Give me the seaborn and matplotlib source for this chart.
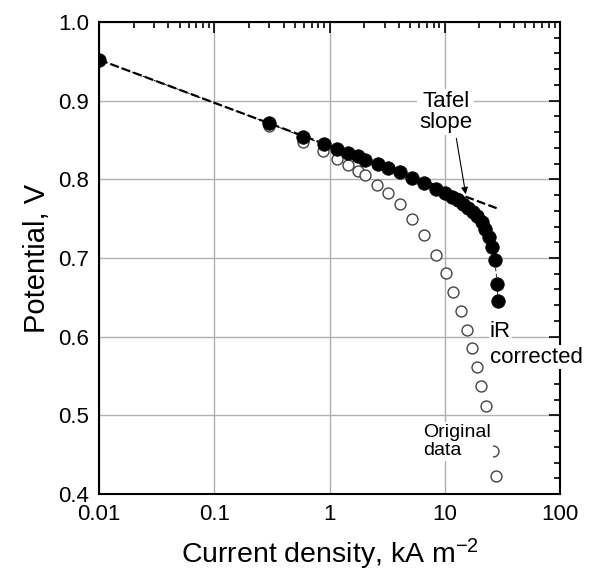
"""
Tafel plot: original vs iR-corrected polarisation data
"""

import numpy as np
import pandas as pd
import matplotlib
matplotlib.use("Agg")
import matplotlib.pyplot as plt
import seaborn as sns
from matplotlib.ticker import LogLocator, MultipleLocator, NullFormatter

# iR corrected points (filled)
corr_j = [0.01, 0.30, 0.59, 0.89, 1.16, 1.46, 1.75, 2.05, 2.62, 3.2, 4.08, 5.15,
          6.6, 8.45, 10.1, 11.6, 12.9, 14.4, 15.8, 17.5, 19.2, 20.9, 22.5, 24.1,
          25.8, 27.2, 28.5, 29.0]
corr_v = [0.952, 0.871, 0.854, 0.845, 0.839, 0.833, 0.829, 0.825, 0.819, 0.815,
          0.809, 0.802, 0.795, 0.788, 0.782, 0.778, 0.774, 0.769, 0.764, 0.758,
          0.753, 0.746, 0.737, 0.727, 0.714, 0.697, 0.667, 0.645]

# original data (open)
orig_j = [0.01, 0.30, 0.59, 0.88, 1.16, 1.46, 1.75, 2.05, 2.6, 3.2, 4.05, 5.15,
          6.6, 8.45, 10.2, 11.9, 13.7, 15.7, 17.2, 19.1, 20.7, 22.6, 26.3, 27.7]
orig_v = [0.952, 0.868, 0.848, 0.836, 0.826, 0.818, 0.811, 0.805, 0.793, 0.782,
          0.768, 0.750, 0.729, 0.704, 0.681, 0.657, 0.632, 0.609, 0.585, 0.561,
          0.537, 0.512, 0.455, 0.423]

# Tafel line end points
tafel_j = [0.01, 28.5]
tafel_v = [0.952, 0.763]

x_ticks = [0.01, 0.1, 1, 10, 100]
x_ticklabels = ["0.01", "0.1", "1", "10", "100"]
y_ticks = [0.4, 0.5, 0.6, 0.7, 0.8, 0.9, 1.0]


def main():
    sns.set_style("white")
    plt.rcParams["font.family"] = ["Liberation Sans", "DejaVu Sans"]
    plt.rcParams["mathtext.fontset"] = "custom"
    plt.rcParams["mathtext.rm"] = "Liberation Sans"
    plt.rcParams["mathtext.it"] = "Liberation Sans"
    for key in ["text.color", "axes.labelcolor", "xtick.color", "ytick.color"]:
        plt.rcParams[key] = "black"

    corr = pd.DataFrame({"j": corr_j, "v": corr_v})
    orig = pd.DataFrame({"j": orig_j, "v": orig_v})
    tafel = pd.DataFrame({"j": tafel_j, "v": tafel_v})

    fig = plt.figure(figsize=(5.89, 5.75), dpi=100)
    ax = fig.add_axes([0.1681, 0.1409, 0.7827, 0.8209])

    ax.set_xscale("log")
    ax.set_xlim(0.01, 100)
    ax.set_ylim(0.4, 1.0)

    ax.grid(True, which="major", color="#b0b0b0", linewidth=1.0, zorder=0)

    # open circles
    sns.scatterplot(data=orig, x="j", y="v", ax=ax, marker="o", s=62,
                    facecolor="white", edgecolor="#444444", linewidth=1.0, zorder=3)
    # thin connecting line for corrected data
    sns.lineplot(data=corr, x="j", y="v", ax=ax, color="black", linewidth=0.6,
                 linestyle=(0, (4, 3)), sort=False, zorder=3)
    # filled circles
    sns.scatterplot(data=corr, x="j", y="v", ax=ax, marker="o", s=95,
                    color="black", edgecolor="black", linewidth=0.5, zorder=4)
    # Tafel line
    sns.lineplot(data=tafel, x="j", y="v", ax=ax, color="black", linewidth=1.6,
                 linestyle=(0, (4, 1.5)), zorder=5)

    ax.set_xticks(x_ticks)
    ax.set_xticklabels(x_ticklabels)
    ax.xaxis.set_minor_locator(LogLocator(base=10, subs=np.arange(2, 10)))
    ax.xaxis.set_minor_formatter(NullFormatter())
    ax.set_yticks(y_ticks)
    ax.yaxis.set_minor_locator(MultipleLocator(0.02))

    ax.tick_params(which="both", direction="in", top=True, right=True,
                   width=1.2, labelsize=16)
    ax.tick_params(which="major", length=8, pad=7)
    ax.tick_params(which="minor", length=4.5)
    for s in ax.spines.values():
        s.set_linewidth(1.5)
        s.set_color("black")

    ax.set_xlabel("Current density, kA m$^{-2}$", fontsize=20.5, labelpad=9)
    ax.set_ylabel("Potential, V", fontsize=21, labelpad=5)

    box = dict(facecolor="white", edgecolor="none", pad=1.5)
    ax.text(10.2, 0.885, "Tafel\nslope", fontsize=16, ha="center", va="center",
            linespacing=1.0, bbox=box, zorder=6)
    ax.annotate("", xy=(15.2, 0.781), xytext=(12.6, 0.852),
                arrowprops=dict(arrowstyle="-|>", color="black", lw=0.8,
                                mutation_scale=10, shrinkA=0, shrinkB=0),
                zorder=6)
    ax.text(24.6, 0.600, "iR", fontsize=16, ha="left", va="baseline",
            bbox=dict(facecolor="white", edgecolor="none", pad=0.5), zorder=6)
    ax.text(24.6, 0.567, "corrected", fontsize=16, ha="left", va="baseline",
            bbox=dict(facecolor="white", edgecolor="none", pad=1.0), zorder=6,
            clip_on=False)
    ax.text(6.5, 0.467, "Original\ndata", fontsize=14, ha="left", va="center",
            linespacing=1.05, bbox=box, zorder=6)

    fig.savefig("out.png", dpi=100)
    plt.close(fig)


if __name__ == "__main__":
    main()
